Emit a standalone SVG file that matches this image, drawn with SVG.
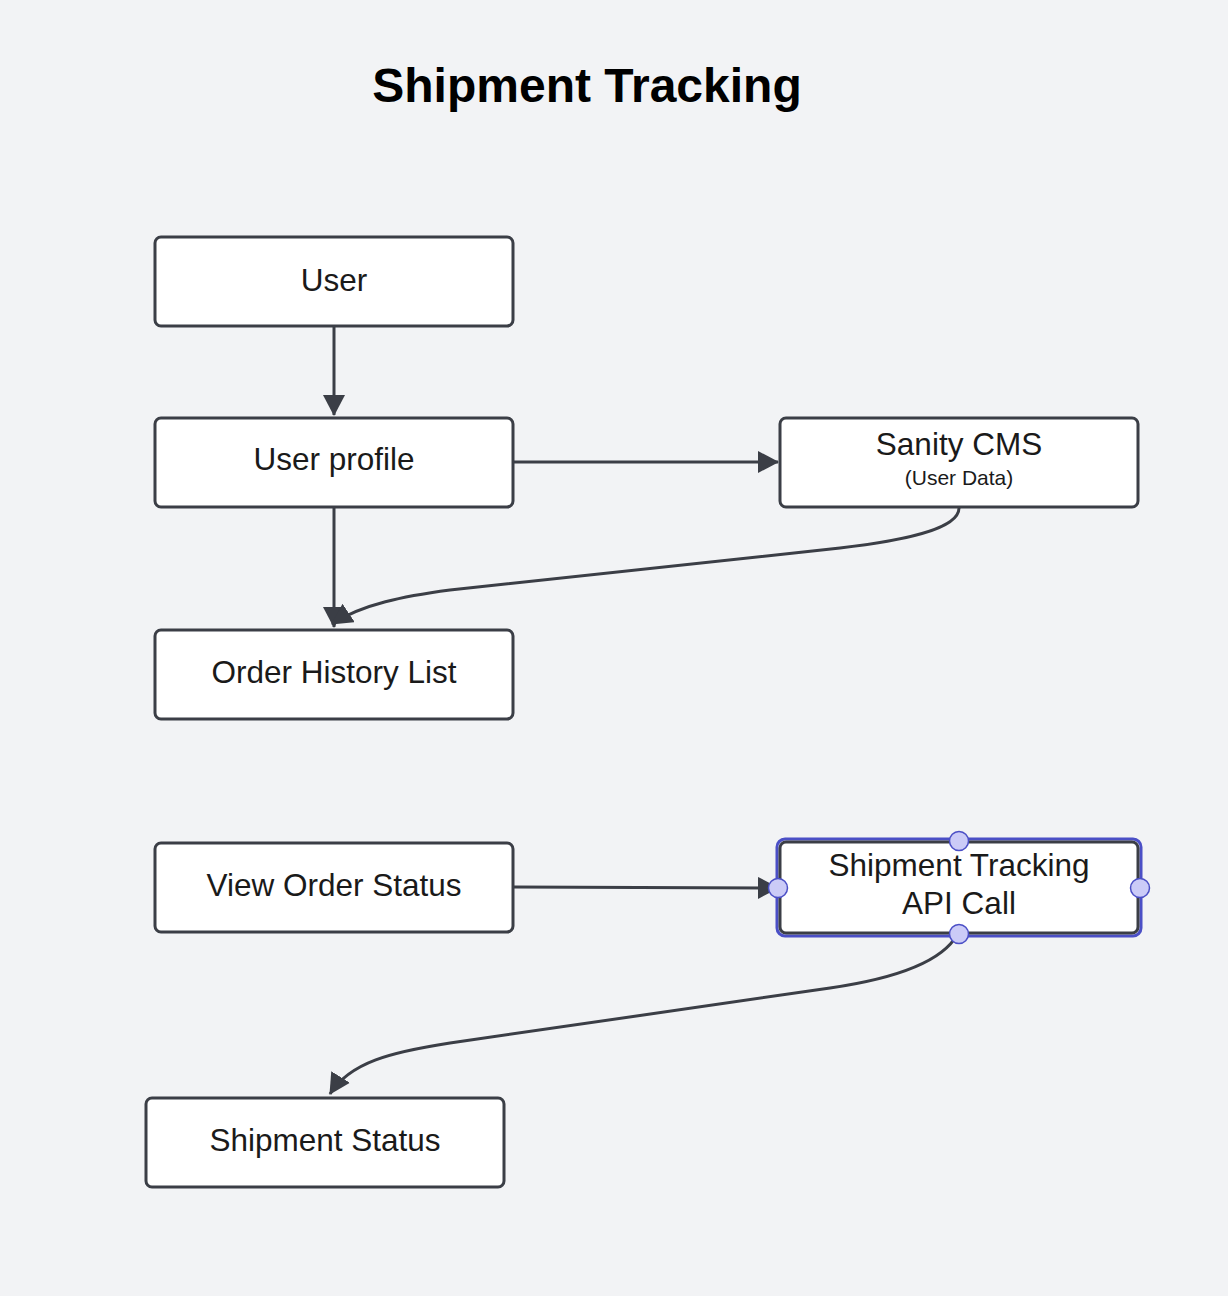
<svg xmlns="http://www.w3.org/2000/svg" width="1228" height="1296" viewBox="0 0 1228 1296">
<style>
.bg{fill:#f2f3f5}
.box{fill:#ffffff;stroke:#3b3e46;stroke-width:3}
.lbl{font-family:"Liberation Sans",Arial,sans-serif;font-size:31.5px;fill:#1a1a1a;text-anchor:middle}
.sub{font-family:"Liberation Sans",Arial,sans-serif;font-size:21px;fill:#1a1a1a;text-anchor:middle}
.title{font-family:"Liberation Sans",Arial,sans-serif;font-size:48px;font-weight:bold;fill:#000;text-anchor:middle}
.edge{fill:none;stroke:#3b3e46;stroke-width:3}
.sel{fill:none;stroke:#4b4fc6;stroke-width:3}
.handle{fill:#cbcbf7;stroke:#4b4fc6;stroke-width:1.5}
</style>
<defs>
<marker id="arr" markerUnits="userSpaceOnUse" markerWidth="22" markerHeight="22" refX="20" refY="11" orient="auto">
<path d="M0,0 L21,11 L0,22 z" fill="#3b3e46"/>
</marker>
</defs>
<rect class="bg" x="0" y="0" width="1228" height="1296"/>
<text class="title" x="587" y="102">Shipment Tracking</text>
<g id="connectors">
<path class="edge" d="M334,327 L334,415" marker-end="url(#arr)"/>
<path class="edge" d="M334,508 L334,627" marker-end="url(#arr)"/>
<path class="edge" d="M514,462 L778,462" marker-end="url(#arr)"/>
<path class="edge" d="M959,508 C959,530 900,541 840,548 L450,590 C405,596 362,604 332,624" marker-end="url(#arr)"/>
<path class="edge" d="M514,887 L778,888" marker-end="url(#arr)"/>
<path class="edge" d="M957,935 C940,965 885,980 830,988 L450,1043 C392,1052 350,1062 330,1094" marker-end="url(#arr)"/>
</g>
<g id="node-user">
<rect class="box" x="155" y="237" width="358" height="89" rx="6"/>
<text class="lbl" x="334" y="291">User</text>
</g>
<g id="node-profile">
<rect class="box" x="155" y="418" width="358" height="89" rx="6"/>
<text class="lbl" x="334" y="470">User profile</text>
</g>
<g id="node-sanity">
<rect class="box" x="780" y="418" width="358" height="89" rx="6"/>
<text class="lbl" x="959" y="455">Sanity CMS</text>
<text class="sub" x="959" y="485">(User Data)</text>
</g>
<g id="node-orders">
<rect class="box" x="155" y="630" width="358" height="89" rx="6"/>
<text class="lbl" x="334" y="683">Order History List</text>
</g>
<g id="node-view">
<rect class="box" x="155" y="843" width="358" height="89" rx="6"/>
<text class="lbl" x="334" y="896">View Order Status</text>
</g>
<g id="node-api">
<rect class="sel" x="777" y="839" width="364" height="97" rx="8"/>
<rect class="box" x="780" y="842" width="358" height="91" rx="6"/>
<text class="lbl" x="959" y="876">Shipment Tracking</text>
<text class="lbl" x="959" y="914">API Call</text>
<circle class="handle" cx="959" cy="841" r="9.5"/>
<circle class="handle" cx="778" cy="888" r="9.5"/>
<circle class="handle" cx="1140" cy="888" r="9.5"/>
<circle class="handle" cx="959" cy="934" r="9.5"/>
</g>
<g id="node-status">
<rect class="box" x="146" y="1098" width="358" height="89" rx="6"/>
<text class="lbl" x="325" y="1151">Shipment Status</text>
</g>
</svg>
